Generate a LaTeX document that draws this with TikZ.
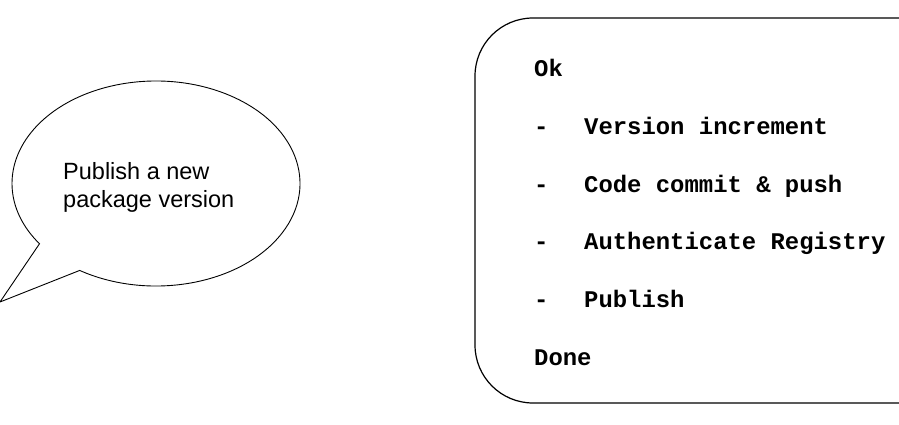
\documentclass[tikz,border=0pt]{standalone}
\usepackage{fontspec}
\setmainfont{Liberation Sans}
\setmonofont{Liberation Mono}
\newcommand{\mono}{\fontsize{23.9}{28}\selectfont\ttfamily\bfseries}

\tikzset{
  listtext/.style={anchor=base west, inner sep=0pt, font=\mono}
}

\begin{document}
\begin{tikzpicture}[x=1pt, y=1pt, font=\fontsize{23.5}{28}\selectfont]

  \useasboundingbox (0,0) rectangle (899,424);
  \clip (0,0) rectangle (899,424);

  % speech bubble
  \coordinate (c) at (156,240.5);
  \coordinate (tip) at (0,122);
  \draw[line width=0.9pt, line join=miter]
      (c) ++(238:144 and 102.5)
      arc[start angle=238, end angle=576, x radius=144, y radius=102.5]
      -- (tip) -- cycle;
  % base = last line here
  \node[anchor=base west, align=left, inner sep=0pt] (msg) at (63,217)
      {Publish a new\\package version};

  % steps box (runs off the right edge)
  \draw[line width=1.2pt, rounded corners=58] (475,21) rectangle (960,406);

  % ---- steps ----
  \node[listtext] (ok) at (534,347) {Ok};
  \foreach \i/\lab in {
      1/Version increment,
      2/Code commit \& push,
      3/Authenticate Registry,
      4/Publish
  }{
    \node[listtext] (dash\i) at (534,347-57.6*\i) {-};
    \node[listtext] (item\i) at (584,347-57.6*\i) {\lab};
  }
  \node[listtext] (done) at (534,59) {Done};

\end{tikzpicture}
\end{document}
